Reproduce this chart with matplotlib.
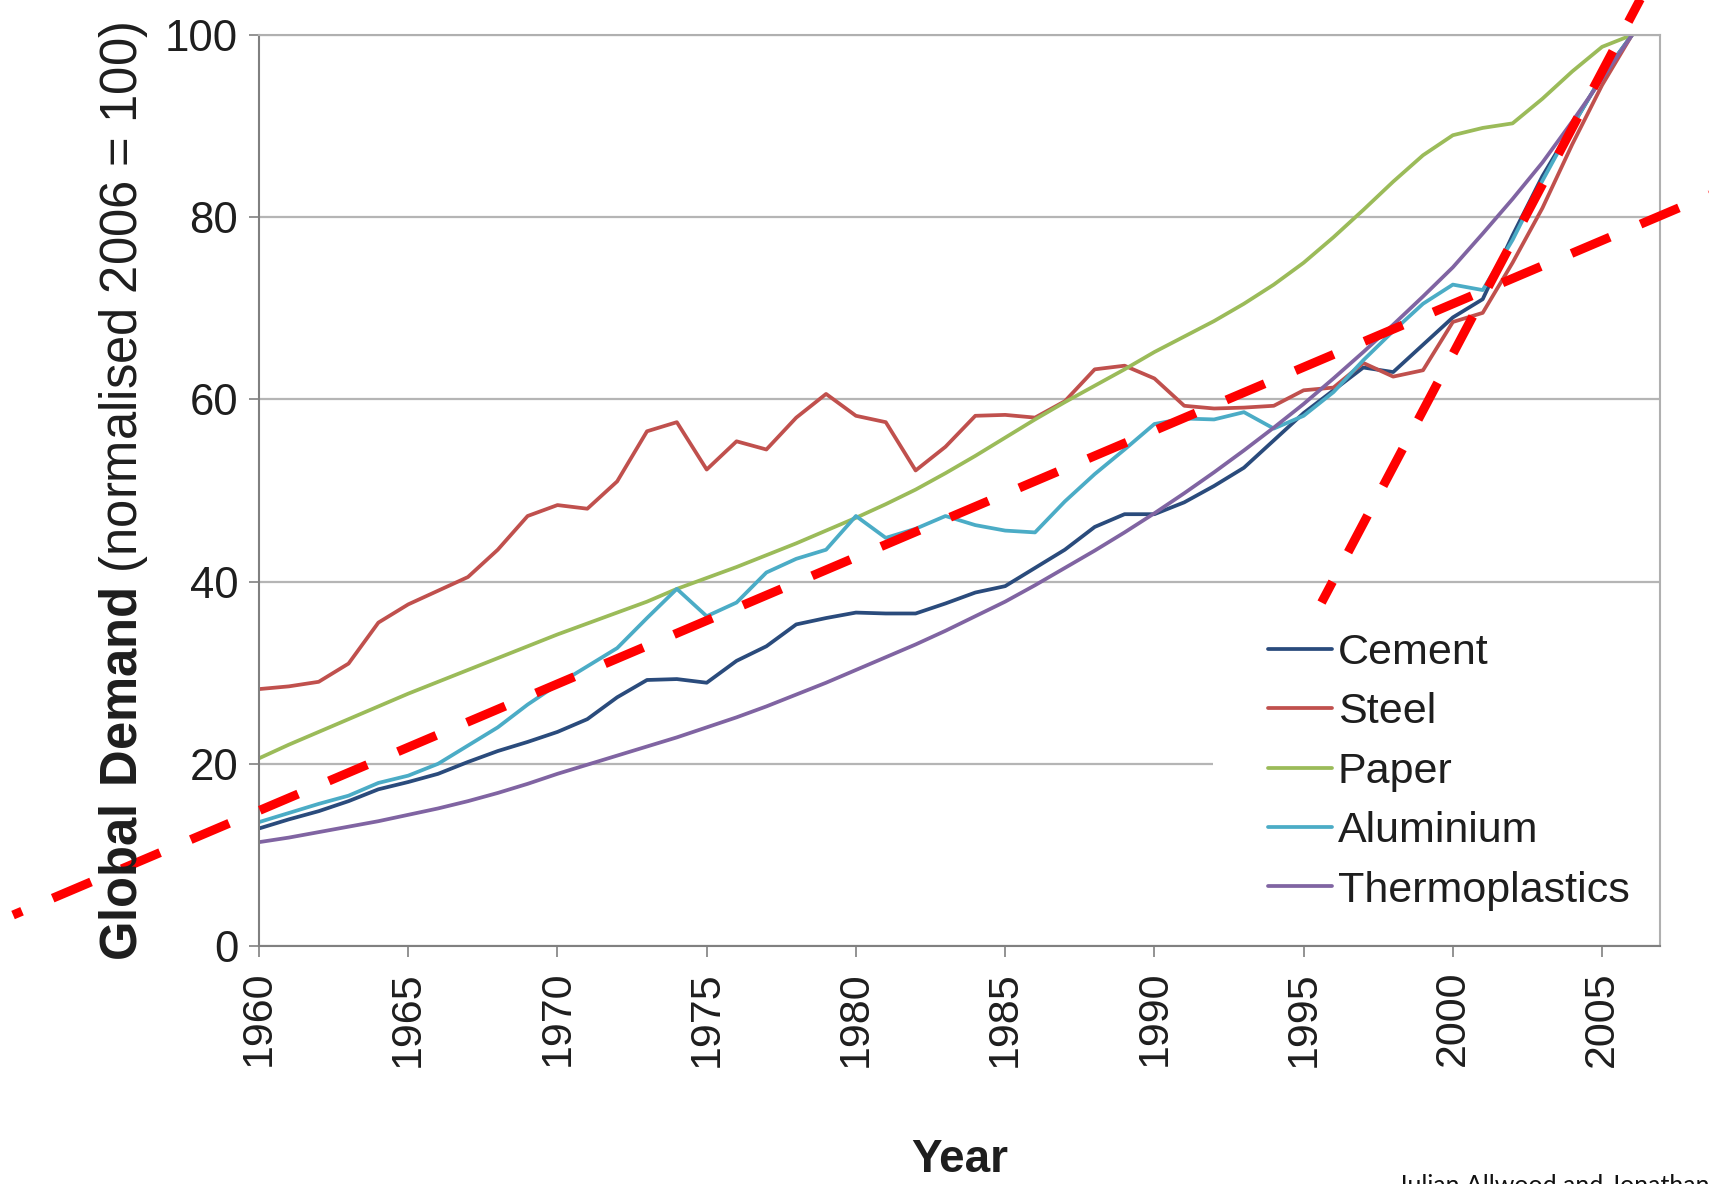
import matplotlib
matplotlib.use("Agg")
import matplotlib.pyplot as plt
from matplotlib.patches import Rectangle

plt.rcParams["font.family"] = ["Liberation Sans", "DejaVu Sans"]
plt.rcParams["mathtext.fontset"] = "custom"
plt.rcParams["mathtext.rm"] = "Liberation Sans"
plt.rcParams["mathtext.bf"] = "Liberation Sans:bold"
plt.rcParams["lines.scale_dashes"] = False

years = list(range(1960, 2007))

cement = [12.9, 13.9, 14.8, 15.9, 17.2, 18.0, 18.9, 20.2, 21.4, 22.4,
          23.5, 24.9, 27.3, 29.2, 29.3, 28.9, 31.3, 32.9, 35.3, 36.0,
          36.6, 36.5, 36.5, 37.6, 38.8, 39.5, 41.5, 43.5, 46.0, 47.4,
          47.4, 48.7, 50.5, 52.5, 55.5, 58.5, 61.0, 63.5, 63.0, 66.0,
          69.0, 71.0, 78.0, 84.5, 90.0, 95.5, 100.0]

steel = [28.2, 28.5, 29.0, 31.0, 35.5, 37.5, 39.0, 40.5, 43.5, 47.2,
         48.4, 48.0, 51.0, 56.5, 57.5, 52.3, 55.4, 54.5, 58.0, 60.6,
         58.2, 57.5, 52.2, 54.8, 58.2, 58.3, 58.0, 59.8, 63.3, 63.7,
         62.3, 59.3, 59.0, 59.1, 59.3, 61.0, 61.3, 64.0, 62.5, 63.2,
         68.5, 69.5, 75.0, 81.0, 88.0, 94.5, 100.0]

paper = [20.6, 22.1, 23.5, 24.9, 26.3, 27.7, 29.0, 30.3, 31.6, 32.9,
         34.2, 35.4, 36.6, 37.8, 39.2, 40.4, 41.6, 42.9, 44.2, 45.6,
         47.0, 48.5, 50.1, 51.9, 53.8, 55.8, 57.8, 59.7, 61.5, 63.3,
         65.2, 66.9, 68.6, 70.5, 72.6, 75.0, 77.8, 80.8, 83.9, 86.8,
         89.0, 89.8, 90.3, 93.0, 96.0, 98.7, 100.0]

aluminium = [13.6, 14.6, 15.6, 16.5, 17.9, 18.7, 20.0, 22.0, 24.0, 26.5,
             28.7, 30.7, 32.7, 36.0, 39.2, 36.2, 37.7, 41.0, 42.5, 43.5,
             47.2, 44.8, 45.8, 47.2, 46.2, 45.6, 45.4, 48.8, 51.8, 54.5,
             57.3, 57.9, 57.8, 58.6, 56.8, 58.2, 60.8, 64.3, 67.5, 70.5,
             72.6, 72.0, 77.5, 84.0, 90.0, 95.5, 100.0]

thermoplastics = [11.4, 11.9, 12.5, 13.1, 13.7, 14.4, 15.1, 15.9, 16.8, 17.8,
                  18.9, 19.9, 20.9, 21.9, 22.9, 24.0, 25.1, 26.3, 27.6, 28.9,
                  30.3, 31.7, 33.1, 34.6, 36.2, 37.8, 39.6, 41.5, 43.4, 45.4,
                  47.5, 49.7, 52.0, 54.4, 56.9, 59.5, 62.3, 65.2, 68.2, 71.3,
                  74.5, 78.2, 82.0, 86.0, 90.5, 95.2, 100.0]

series = [("Cement", cement, "#2a4b7c"),
          ("Steel", steel, "#c0504d"),
          ("Paper", paper, "#9bbb59"),
          ("Aluminium", aluminium, "#4bacc6"),
          ("Thermoplastics", thermoplastics, "#8064a2")]

# red dashed trend lines drawn over the chart (they run past the axes)
trend_flat_x = [1951.76, 2010.0]
trend_flat_y = [3.4, 84.4]
trend_steep_x = [1995.6, 2008.0]
trend_steep_y = [37.7, 114.6]

xticks = list(range(1960, 2006, 5))
yticks = [0, 20, 40, 60, 80, 100]

fig = plt.figure(figsize=(17.09, 11.84), dpi=100)
ax = fig.add_axes([259 / 1709, 1 - 946 / 1184, 1401 / 1709, 911 / 1184])

for name, vals, col in series:
    ax.plot(years, vals, color=col, lw=2.7, label=name, solid_capstyle="round",
            solid_joinstyle="round")

ax.set_xlim(1960, 2006.94)
ax.set_ylim(0, 100)
ax.set_xticks(xticks)
ax.set_yticks(yticks)
ax.tick_params(axis="x", labelsize=31, labelrotation=90, length=8, width=1.2,
               color="#808080", pad=10, labelcolor="#1e1e1e")
ax.tick_params(axis="y", labelsize=31.5, length=7, width=1.2,
               color="#808080", pad=8, labelcolor="#1e1e1e")
ax.grid(axis="y", color="#b5b5b5", lw=1.6)
ax.set_axisbelow(True)
for s in ["left", "bottom"]:
    ax.spines[s].set_color("#808080")
    ax.spines[s].set_linewidth(1.5)
for s in ["top", "right"]:
    ax.spines[s].set_color("#b0b0b0")
    ax.spines[s].set_linewidth(1.5)

# white legend area that hides the gridline behind it
ax.add_patch(Rectangle((1213 / 1709, 1 - 940 / 1184), 447 / 1709, 350 / 1184,
                       transform=fig.transFigure, facecolor="white",
                       edgecolor="none", zorder=1))

leg = ax.legend(loc="upper left", bbox_to_anchor=(1225 / 1709, 1 - 590 / 1184),
                bbox_transform=fig.transFigure, fontsize=31, frameon=False,
                handlelength=1.48, handletextpad=0.14, labelspacing=0.45,
                borderpad=1.0, borderaxespad=0)
for t in leg.get_texts():
    t.set_color("#1e1e1e")

ax.plot(trend_flat_x, trend_flat_y, color="#ff0000", lw=6.5,
        linestyle=(23, (30, 24)), clip_on=False, zorder=6)
ax.plot(trend_steep_x, trend_steep_y, color="#ff0000", lw=6.5,
        linestyle=(13, (30, 24)), clip_on=False, zorder=6)

fig.text(123 / 1709, 1 - 491 / 1184,
         r"$\mathbf{Global\ Demand}$ (normalised 2006 = 100)",
         rotation=90, ha="center", va="center", fontsize=36.5, color="#1e1e1e")
fig.text(960 / 1709, 1 - 1160 / 1184, "Year", ha="center", va="center",
         fontsize=33, fontweight="bold", color="#1e1e1e")
fig.text(1397 / 1709, -9 / 1184, "Julian Allwood and Jonathan Cullen",
         ha="left", va="baseline", fontsize=18, family=["Lato", "DejaVu Sans"],
         color="#111111")

fig.savefig("out.png", dpi=100, facecolor="white")
